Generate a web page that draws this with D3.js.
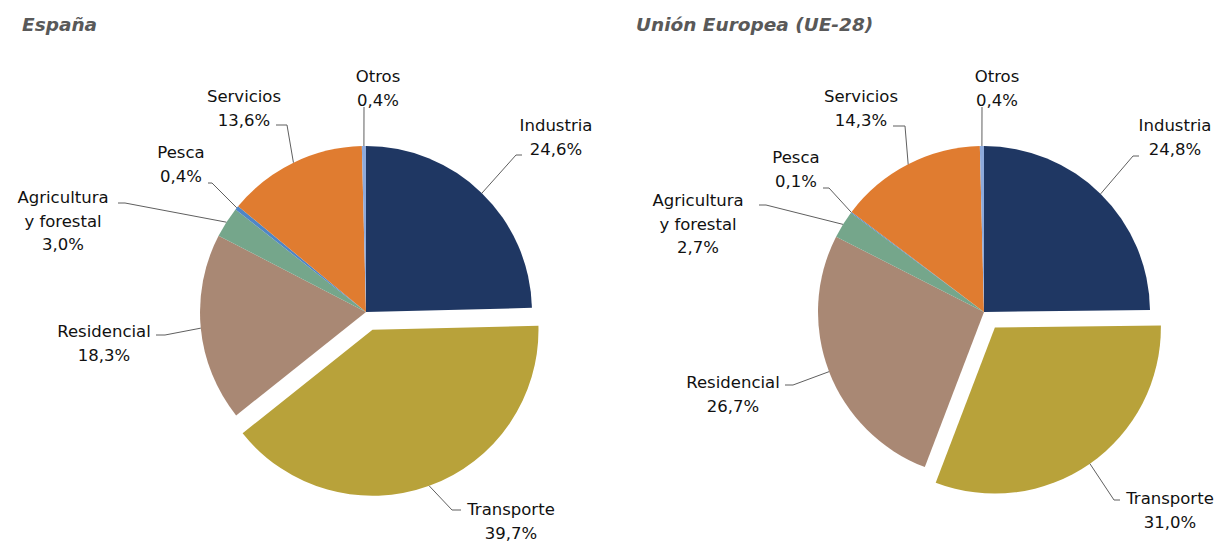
<!DOCTYPE html>
<html>
<head>
<meta charset="utf-8">
<script src="https://cdn.jsdelivr.net/npm/d3@7"></script>
<style>
  html, body { margin: 0; padding: 0; background: #fff; }
  svg { display: block; }
  .title { font-family: "DejaVu Sans", sans-serif; font-weight: bold; font-style: italic; fill: #595959; }
  .lbl { font-family: "DejaVu Sans", sans-serif; fill: #111; }
</style>
</head>
<body>
<svg id="chart" width="1224" height="542"></svg>
<script>
// Final energy consumption by sector (%)
const categories = ["Industria", "Transporte", "Residencial", "Agricultura y forestal", "Pesca", "Servicios", "Otros"];
const labelLines = [["Industria"], ["Transporte"], ["Residencial"], ["Agricultura", "y forestal"], ["Pesca"], ["Servicios"], ["Otros"]];
const valuesEspana = [24.6, 39.7, 18.3, 3.0, 0.4, 13.6, 0.4];
const valuesUE = [24.8, 31.0, 26.7, 2.7, 0.1, 14.3, 0.4];
const titles = ["España", "Unión Europea (UE-28)"];
const explodedCategory = "Transporte";

const colors = {
  "Industria": "#1f3763",
  "Transporte": "#b8a23a",
  "Residencial": "#a98874",
  "Agricultura y forestal": "#75a68b",
  "Pesca": "#4f86c6",
  "Servicios": "#e07c30",
  "Otros": "#8eaadb"
};

// Label placement per pie: text centre (first baseline) and leader elbow, relative to pie centre
const labelLayout = [
  {
    "Industria":              { tx: 190, ty: -181, ex: 150, ey: -157, hx: 156 },
    "Transporte":             { tx: 145, ty: 203,  ex: 86,  ey: 198,  hx: 95 },
    "Residencial":            { tx: -262, ty: 25,  ex: -201, ey: 23,  hx: -210 },
    "Agricultura y forestal": { tx: -303, ty: -109, ex: -241, ey: -109, hx: -248 },
    "Pesca":                  { tx: -185, ty: -154, ex: -154, ey: -129, hx: -158 },
    "Servicios":              { tx: -122, ty: -210, ex: -79, ey: -187, hx: -90 },
    "Otros":                  { tx: 12, ty: -230, ex: -2, ey: -205, hx: -2 }
  },
  {
    "Industria":              { tx: 191, ty: -181, ex: 149, ey: -156, hx: 155 },
    "Transporte":             { tx: 186, ty: 192,  ex: 130, ey: 188,  hx: 136 },
    "Residencial":            { tx: -251, ty: 76,  ex: -191, ey: 73,  hx: -199 },
    "Agricultura y forestal": { tx: -286, ty: -106, ex: -218, ey: -107, hx: -225 },
    "Pesca":                  { tx: -188, ty: -149, ex: -155, ey: -124, hx: -161 },
    "Servicios":              { tx: -123, ty: -210, ex: -79, ey: -186, hx: -91 },
    "Otros":                  { tx: 13, ty: -230, ex: -2, ey: -205, hx: -2 }
  }
];

const pies = [
  { title: titles[0], values: valuesEspana, cx: 366, cy: 312, titleX: 22 },
  { title: titles[1], values: valuesUE, cx: 984, cy: 312, titleX: 636 }
];

const radius = 166;
const explodeDist = 19;
const lineGap = 23.5;

const svg = d3.select("#chart");

const pieGen = d3.pie().sort(null).value(d => d.value);
const arcGen = d3.arc().innerRadius(0).outerRadius(radius);
const edgeArc = d3.arc().innerRadius(radius).outerRadius(radius);

pies.forEach((p, pi) => {
  const data = categories.map((c, i) => ({ cat: c, value: p.values[i], lines: labelLines[i] }));
  const arcs = pieGen(data);
  const layout = labelLayout[pi];

  svg.append("text")
    .attr("class", "title")
    .attr("x", p.titleX)
    .attr("y", 31)
    .attr("font-size", 18.5)
    .text(p.title);

  const g = svg.append("g").attr("transform", `translate(${p.cx},${p.cy})`);

  const offset = a => {
    if (a.data.cat !== explodedCategory) return [0, 0];
    const mid = (a.startAngle + a.endAngle) / 2;
    return [Math.sin(mid) * explodeDist, -Math.cos(mid) * explodeDist];
  };

  g.selectAll("path.slice")
    .data(arcs)
    .join("path")
    .attr("class", "slice")
    .attr("transform", a => `translate(${offset(a)[0]},${offset(a)[1]})`)
    .attr("d", arcGen)
    .attr("fill", a => colors[a.data.cat]);

  // leader lines
  g.selectAll("polyline.leader")
    .data(arcs)
    .join("polyline")
    .attr("class", "leader")
    .attr("fill", "none")
    .attr("stroke", "#5f5f5f")
    .attr("stroke-width", 1)
    .attr("points", a => {
      const [ox, oy] = offset(a);
      const [sx, sy] = edgeArc.centroid(a);
      const L = layout[a.data.cat];
      return [[sx + ox, sy + oy], [L.ex, L.ey], [L.hx, L.ey]].map(q => q.join(",")).join(" ");
    });

  // labels: name lines + percentage
  const labels = g.selectAll("text.lbl")
    .data(arcs)
    .join("text")
    .attr("class", "lbl")
    .attr("font-size", 16.5)
    .attr("text-anchor", "middle");

  labels.each(function (a) {
    const L = layout[a.data.cat];
    const lines = a.data.lines.concat([d3.format(".1f")(a.data.value).replace(".", ",") + "%"]);
    d3.select(this).selectAll("tspan")
      .data(lines)
      .join("tspan")
      .attr("x", L.tx)
      .attr("y", (d, i) => L.ty + i * lineGap)
      .text(d => d);
  });
});
</script>
</body>
</html>
